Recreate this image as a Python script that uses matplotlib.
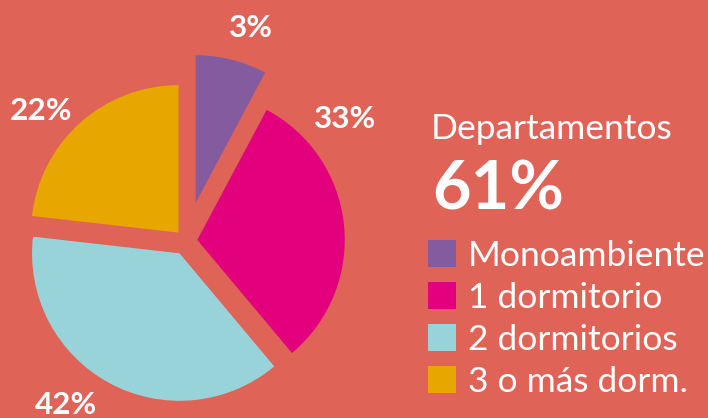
import matplotlib
matplotlib.use("Agg")
import matplotlib.pyplot as plt

# ---- data ----
categories = ["Monoambiente", "1 dormitorio", "2 dormitorios", "3 o más dorm."]
shares = [7.8, 31.1, 37.9, 23.2]          # wedge sizes as drawn (% of circle)
pct_labels = ["3%", "33%", "42%", "22%"]   # printed labels
title = "Departamentos"
total_label = "61%"

# ---- style ----
colors = ["#855BA0", "#E3007D", "#99D3DA", "#E8A600"]
bg = "#DF6357"
explode = [0.268, 0.076, 0.094, 0.077]
FONT = ["Lato", "DejaVu Sans"]

W, H = 708, 418
fig = plt.figure(figsize=(W / 100, H / 100), dpi=100, facecolor=bg)
ax = fig.add_axes([0, 0, 1, 1])
ax.set_facecolor(bg)

R = 147.5              # pixel radius
cx, cy = 186.1, 241.1  # pixel centre of the (unexploded) pie

wedges, _ = ax.pie(shares, colors=colors, explode=explode, startangle=90,
                   counterclock=False, radius=1,
                   wedgeprops=dict(linewidth=0))
ax.set_xlim(-cx / R, (W - cx) / R)
ax.set_ylim(-(H - cy) / R, cy / R)
ax.set_aspect("equal")
ax.axis("off")

def px(x, y):
    return x / W, 1 - y / H

label_pos = [(250.8, 36.7), (345.0, 127.7), (66.0, 414.3), (40.7, 120.3)]
for txt, (x, y) in zip(pct_labels, label_pos):
    fig.text(*px(x, y), txt, ha="center", va="baseline", color="white",
             fontsize=22.6, fontweight="bold", family=FONT)

fig.text(*px(430.7, 139.3), title, ha="left", va="baseline", color="white",
         fontsize=25.5, fontweight="normal", family=FONT)
fig.text(*px(432, 209), total_label, ha="left", va="baseline", color="white",
         fontsize=48, fontweight="bold", family=FONT)

leg = fig.legend(wedges, categories, loc="upper left",
                 bbox_to_anchor=px(428, 240), bbox_transform=fig.transFigure,
                 frameon=False, borderpad=0, borderaxespad=0,
                 handlelength=0.79, handleheight=0.79, handletextpad=0.33,
                 labelspacing=0.28,
                 prop=dict(family=FONT, size=25.5))
for t in leg.get_texts():
    t.set_color("white")

fig.savefig("out.png", dpi=100, facecolor=bg)
